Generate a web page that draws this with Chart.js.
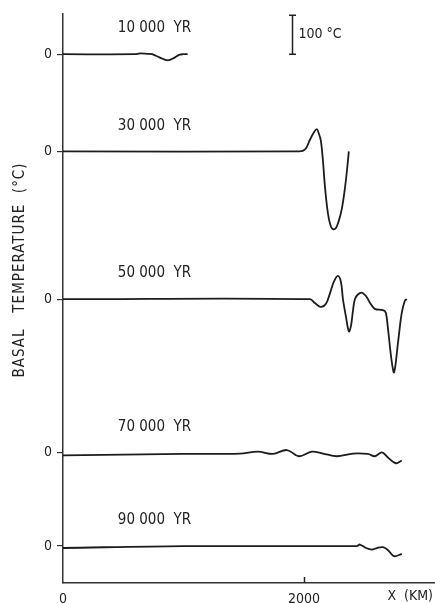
<!DOCTYPE html>
<html>
<head>
<meta charset="utf-8">
<script src="https://cdn.jsdelivr.net/npm/chart.js@4"></script>
<style>
  html, body { margin: 0; padding: 0; background: #fff; }
  #wrap { width: 435px; height: 604px; }
</style>
</head>
<body>
<div id="wrap"><canvas id="basalChart" width="435" height="604"></canvas></div>
<script>
// --- Basal temperature profiles, stacked by time slice ---

const FONT = "'Liberation Sans Narrow', 'DejaVu Sans Condensed', sans-serif";

const timeLabels = ['10 000  YR', '30 000  YR', '50 000  YR', '70 000  YR', '90 000  YR'];
// vertical stacking position of each zero line (in °C units of the y scale)
const traceOffsets = [1360, 1110, 730, 335, 95];

const x10k = [0, 600, 640, 700, 740, 800, 870, 930, 970, 1000, 1035];
const t10k = [0, 0, 2, 1, 0, -8, -16, -8, -1, 0, 0];

const x30k = [0, 1960, 2010, 2050, 2085, 2108, 2125, 2141, 2158, 2174, 2191, 2207, 2224, 2241, 2266, 2290, 2315, 2340, 2357, 2373];
const t30k = [0, 0, 5, 30, 50, 57, 45, 27, -24, -88, -140, -173, -193, -200, -197, -178, -147, -96, -50, 0];

const x50k = [0, 2050, 2091, 2141, 2183, 2216, 2249, 2282, 2307, 2324, 2349, 2373, 2390, 2407, 2423, 2448, 2481, 2515, 2548, 2589, 2656, 2680, 2697, 2728, 2749, 2780, 2811, 2838, 2855];
const t50k = [0, 0, -10, -20, -12, 15, 45, 60, 45, 0, -45, -83, -70, -30, 0, 12, 17, 8, -9, -25, -28, -35, -73, -158, -188, -115, -38, -4, 0];

const x70k = [0, 1000, 1469, 1618, 1743, 1859, 1959, 2066, 2158, 2274, 2407, 2531, 2589, 2647, 2697, 2763, 2813];
const t70k = [-7, -3, -2, 3, -3, 7, -9, 3, -2, -9, -2, -3, -9, 1, -12, -27, -20];

const x90k = [0, 1000, 2440, 2465, 2515, 2564, 2606, 2656, 2697, 2747, 2813];
const t90k = [-5, 0, 0, 4, -5, -9, -5, -3, -10, -26, -20];

const xTicks = [0, 2000];
const scaleBarKm = 1900;
const scaleBarDeg = 100;

const traces = [[x10k, t10k], [x30k, t30k], [x50k, t50k], [x70k, t70k], [x90k, t90k]];

const datasets = traces.map(([xs, ts], i) => ({
  label: timeLabels[i],
  data: xs.map((x, j) => ({ x: x, y: traceOffsets[i] + ts[j] })),
  borderColor: '#1c1c1c',
  borderWidth: 1.8,
  pointRadius: 0,
  fill: false,
  tension: 0.35
}));

const annotate = {
  id: 'annotate',
  afterDraw(chart) {
    const { ctx, scales: { x, y }, chartArea } = chart;
    ctx.save();
    ctx.fillStyle = '#222';
    ctx.strokeStyle = '#222';
    ctx.font = `15px ${FONT}`;
    ctx.textBaseline = 'middle';

    // time labels above each trace
    ctx.textAlign = 'left';
    timeLabels.forEach((lab, i) => {
      ctx.fillText(lab, x.getPixelForValue(455), y.getPixelForValue(traceOffsets[i] + 66));
    });

    // 100 °C scale bar
    const bx = Math.round(x.getPixelForValue(scaleBarKm)) + 0.5;
    const by0 = y.getPixelForValue(traceOffsets[0]);
    const by1 = y.getPixelForValue(traceOffsets[0] + scaleBarDeg);
    ctx.lineWidth = 1.5;
    ctx.beginPath();
    ctx.moveTo(bx, by0); ctx.lineTo(bx, by1);
    ctx.moveTo(bx - 3.5, by0); ctx.lineTo(bx + 3.5, by0);
    ctx.moveTo(bx - 3.5, by1); ctx.lineTo(bx + 3.5, by1);
    ctx.stroke();
    ctx.font = `14px ${FONT}`;
    ctx.fillText('100 °C', bx + 6, (by0 + by1) / 2);

    // inward tick at 2000
    const tx = Math.round(x.getPixelForValue(2000)) + 0.5;
    ctx.beginPath();
    ctx.moveTo(tx, chartArea.bottom); ctx.lineTo(tx, chartArea.bottom - 6);
    ctx.stroke();

    // x axis name
    ctx.textAlign = 'right';
    ctx.fillText('X  (KM)', 433, 596);

    // y axis title
    ctx.translate(20, 270);
    ctx.rotate(-Math.PI / 2);
    ctx.textAlign = 'center';
    ctx.font = `15px ${FONT}`;
    ctx.letterSpacing = '1px';
    ctx.fillText('BASAL   TEMPERATURE  (°C)', 0, 0);
    ctx.restore();
  }
};

new Chart(document.getElementById('basalChart'), {
  type: 'line',
  data: { datasets: datasets },
  options: {
    responsive: false,
    animation: false,
    layout: { padding: { top: 12, right: 1, left: 0, bottom: 0 } },
    plugins: { legend: { display: false }, tooltip: { enabled: false } },
    scales: {
      x: {
        type: 'linear',
        min: 0,
        max: 3080,
        afterBuildTicks: scale => { scale.ticks = xTicks.map(v => ({ value: v })); },
        afterFit: scale => { scale.height = 21; },
        grid: { display: false },
        border: { display: true, color: '#333', width: 1.5 },
        ticks: { autoSkip: false, maxRotation: 0, padding: 0, color: '#222', font: { family: FONT, size: 14 }, callback: v => String(v) }
      },
      y: {
        type: 'linear',
        min: 0,
        max: 1465,
        afterBuildTicks: scale => { scale.ticks = traceOffsets.map(v => ({ value: v })); },
        afterFit: scale => { scale.width = 63; },
        grid: { drawOnChartArea: false, drawTicks: true, tickLength: 6, color: '#333', lineWidth: 1.2 },
        border: { display: true, color: '#333', width: 1.5 },
        ticks: { autoSkip: false, padding: 5, color: '#222', font: { family: FONT, size: 14 }, callback: () => '0' }
      }
    }
  },
  plugins: [annotate]
});
</script>
</body>
</html>
